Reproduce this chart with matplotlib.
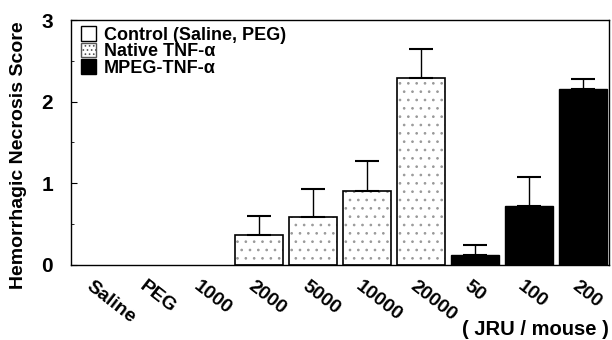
import matplotlib.pyplot as plt
import matplotlib.transforms as mtransforms
from matplotlib.patches import Patch

plt.rcParams['font.family'] = ['Liberation Sans', 'DejaVu Sans']
plt.rcParams['font.weight'] = 'bold'
plt.rcParams['axes.labelweight'] = 'bold'
plt.rcParams['hatch.linewidth'] = 0.7

categories = ['Saline', 'PEG', '1000', '2000', '5000', '10000', '20000', '50', '100', '200']
groups = ['control', 'control', 'native', 'native', 'native', 'native', 'native', 'mpeg', 'mpeg', 'mpeg']
scores = [0, 0, 0, 0.36, 0.59, 0.91, 2.29, 0.12, 0.72, 2.16]
errors = [0, 0, 0, 0.24, 0.34, 0.36, 0.36, 0.12, 0.36, 0.12]

fig = plt.figure(figsize=(6.12, 3.4), dpi=100)
ax = fig.add_axes([0.116, 0.221, 0.879, 0.720])

x = list(range(len(categories)))
width = 0.89

for i, g in enumerate(groups):
    if scores[i] == 0:
        continue
    if g == 'native':
        ax.bar(x[i], scores[i], width, color='white', edgecolor='#999999',
               hatch='..', linewidth=0, zorder=2)
        ax.bar(x[i], scores[i], width, fill=False, edgecolor='black',
               linewidth=1.2, zorder=3)
    elif g == 'mpeg':
        ax.bar(x[i], scores[i], width, color='black', edgecolor='black',
               linewidth=1.0, zorder=2)
    else:
        ax.bar(x[i], scores[i], width, color='white', edgecolor='black',
               linewidth=1.0, zorder=2)
    if errors[i] > 0:
        ax.errorbar(x[i], scores[i], yerr=[[0], [errors[i]]], fmt='none',
                    ecolor='black', elinewidth=1.0, capsize=8.6, capthick=1.5,
                    zorder=4)

ax.set_xlim(-0.48, len(categories) - 0.52)
ax.set_ylim(0, 3.0)
ax.set_yticks([0, 1, 2, 3])
ax.set_yticks([0.5, 1.5, 2.5], minor=True)
ax.tick_params(axis='y', which='major', direction='in', length=4, labelsize=15, pad=13)
ax.tick_params(axis='y', which='minor', direction='in', length=2)
ax.tick_params(axis='x', length=0, pad=9)
ax.set_xticks(x)
ax.set_xticklabels(categories, rotation=-38, ha='left', va='top',
                   rotation_mode='anchor', fontsize=14)
offset = mtransforms.ScaledTranslation(-4 / 100, 0, fig.dpi_scale_trans)
for lbl in ax.get_xticklabels():
    lbl.set_transform(lbl.get_transform() + offset)

for s in ax.spines.values():
    s.set_linewidth(1.0)

ax.set_ylabel('Hemorrhagic Necrosis Score', fontsize=14, labelpad=8)
ax.yaxis.set_label_coords(-0.082, 0.45)

handles = [
    Patch(facecolor='white', edgecolor='black', label='Control (Saline, PEG)'),
    Patch(facecolor='white', edgecolor='#555555', hatch='....', label='Native TNF-α'),
    Patch(facecolor='black', edgecolor='black', label='MPEG-TNF-α'),
]
ax.legend(handles=handles, loc='upper left', bbox_to_anchor=(0.006, 1.0),
          frameon=False, fontsize=13, handlelength=0.85, handleheight=0.85,
          handletextpad=0.45, labelspacing=-0.05, borderaxespad=0.15,
          borderpad=0.2)

fig.text(0.995, 0.03, '( JRU / mouse )', ha='right', va='center', fontsize=14.5)

fig.savefig('out.png', dpi=100)
